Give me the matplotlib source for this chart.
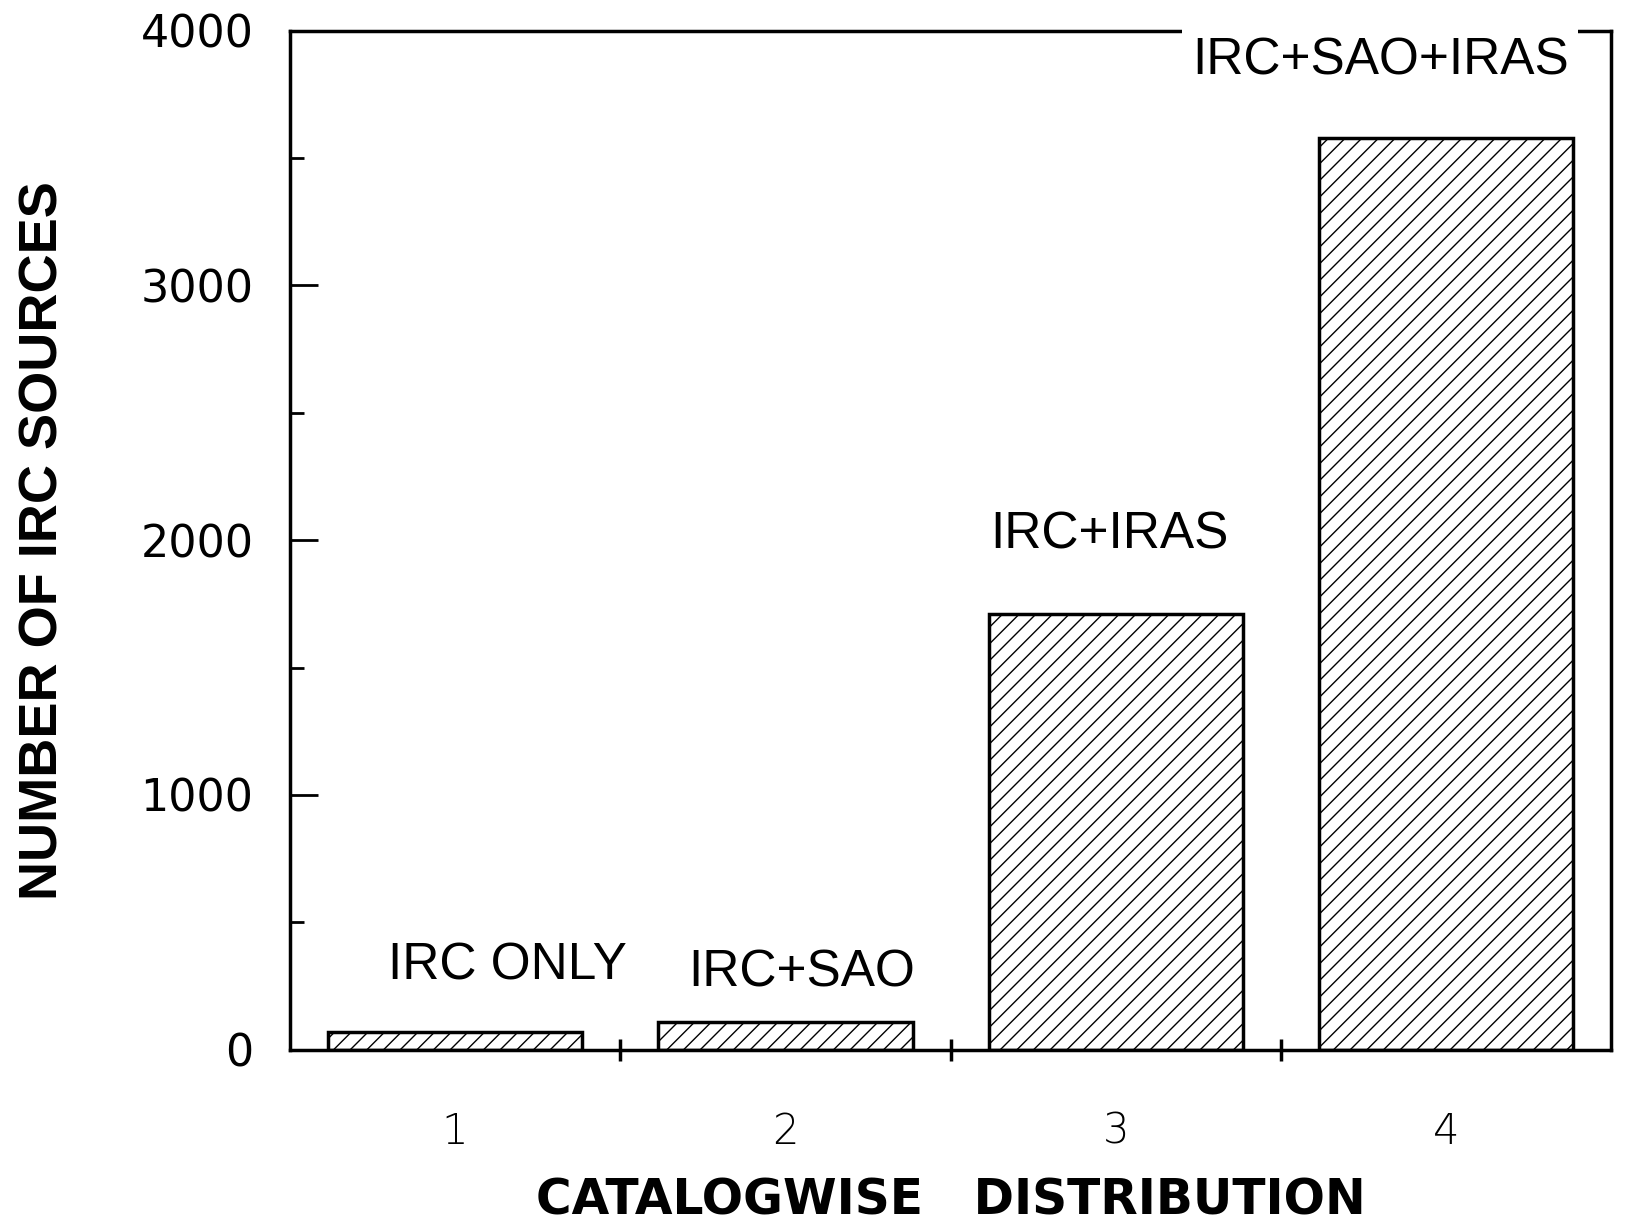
import matplotlib
matplotlib.use('Agg')
import matplotlib.pyplot as plt
from matplotlib.ticker import MultipleLocator

# data
categories = [1, 2, 3, 4]
counts = [70, 110, 1710, 3580]
bar_labels = ['IRC ONLY', 'IRC+SAO', 'IRC+IRAS', 'IRC+SAO+IRAS']
label_x = [1.16, 2.05, 2.98, 3.80]
label_y = [330, 300, 2020, 3880]

narrow = ['Liberation Sans Narrow', 'Liberation Sans', 'DejaVu Sans']

plt.rcParams['hatch.linewidth'] = 1.0

fig = plt.figure(figsize=(16.36, 12.29), dpi=100)
ax = fig.add_axes([0.177, 0.146, 0.808, 0.829])

ax.bar(categories, counts, width=0.77, color='white', edgecolor='black',
       linewidth=2.5, hatch='//')

for x, y, t in zip(label_x, label_y, bar_labels):
    bbox = None
    if t == 'IRC+SAO+IRAS':
        # white box breaks the top frame line as in the original
        bbox = dict(facecolor='white', edgecolor='none', pad=7)
    ax.text(x, y, t, ha='center', va='center', fontsize=37, family=narrow,
            bbox=bbox, zorder=5, clip_on=False)

ax.set_xlim(0.5, 4.5)
ax.set_ylim(0, 4000)

# y axis: major ticks every 1000, minor every 500, pointing inwards
ax.yaxis.set_major_locator(MultipleLocator(1000))
ax.yaxis.set_minor_locator(MultipleLocator(500))
ax.tick_params(axis='y', which='major', direction='in', length=20, width=2,
               labelsize=32, pad=26)
ax.tick_params(axis='y', which='minor', direction='in', length=10, width=2)

# x axis: numbers at categories, tick marks between them
ax.set_xticks(categories)
ax.set_xticks([1.5, 2.5, 3.5], minor=True)
ax.tick_params(axis='x', which='major', length=0, labelsize=30, pad=44)
ax.tick_params(axis='x', which='minor', direction='inout', length=16, width=2.5)
for lab in ax.get_xticklabels():
    lab.set_fontweight('light')

for s in ax.spines.values():
    s.set_linewidth(2.5)

ax.set_xlabel('CATALOGWISE   DISTRIBUTION',
              fontsize=35, fontweight='bold', labelpad=18)
ax.set_ylabel('NUMBER OF IRC SOURCES', fontsize=39, fontweight='bold',
              family=narrow, labelpad=52)

fig.savefig('out.png', dpi=100)
